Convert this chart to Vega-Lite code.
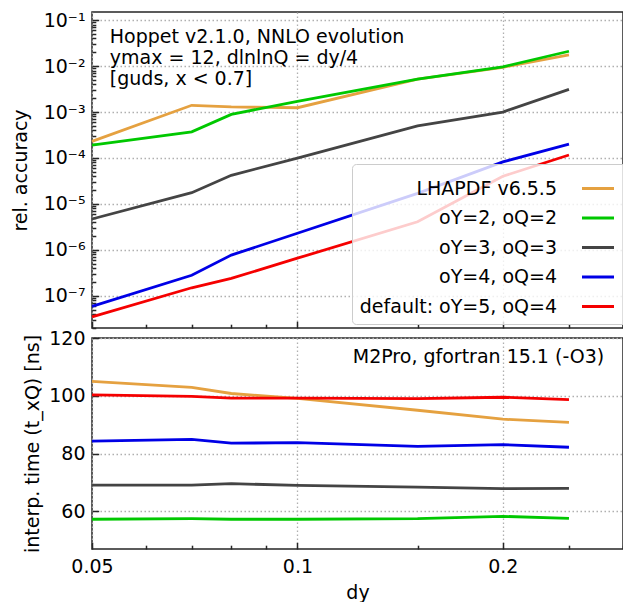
{
  "$schema": "https://vega.github.io/schema/vega-lite/v6.json",
  "background": "white",
  "padding": {"left": 10, "top": 10, "right": 0, "bottom": 0},
  "config": {
    "font": "DejaVu Sans",
    "view": {"stroke": "#262626", "strokeWidth": 1.5},
    "axis": {
      "labelFont": "DejaVu Sans", "labelFontSize": 19, "labelColor": "black",
      "titleFont": "DejaVu Sans", "titleFontSize": 19, "titleFontWeight": "normal", "titleColor": "black",
      "domain": false, "tickColor": "#262626", "tickWidth": 1.5,
      "gridColor": "#b0b0b0", "gridDash": [1.5, 2.5], "gridWidth": 1.3,
      "labelFlush": false, "labelOverlap": false
    },
    "concat": {"spacing": -2}
  },
  "datasets": {
    "d": [
      {"series": "LHAPDF v6.5.5", "dy": 0.05, "acc": 2.3e-4, "time": 105.0},
      {"series": "LHAPDF v6.5.5", "dy": 0.07, "acc": 1.4e-3, "time": 102.9},
      {"series": "LHAPDF v6.5.5", "dy": 0.08, "acc": 1.29e-3, "time": 100.8},
      {"series": "LHAPDF v6.5.5", "dy": 0.1, "acc": 1.24e-3, "time": 99.1},
      {"series": "LHAPDF v6.5.5", "dy": 0.15, "acc": 5.2e-3, "time": 95.0},
      {"series": "LHAPDF v6.5.5", "dy": 0.2, "acc": 9.4e-3, "time": 91.9},
      {"series": "LHAPDF v6.5.5", "dy": 0.25, "acc": 1.75e-2, "time": 90.8},
      {"series": "oY=2, oQ=2", "dy": 0.05, "acc": 1.9e-4, "time": 57.3},
      {"series": "oY=2, oQ=2", "dy": 0.07, "acc": 3.7e-4, "time": 57.5},
      {"series": "oY=2, oQ=2", "dy": 0.08, "acc": 8.9e-4, "time": 57.3},
      {"series": "oY=2, oQ=2", "dy": 0.1, "acc": 1.7e-3, "time": 57.3},
      {"series": "oY=2, oQ=2", "dy": 0.15, "acc": 5.2e-3, "time": 57.5},
      {"series": "oY=2, oQ=2", "dy": 0.2, "acc": 9.6e-3, "time": 58.3},
      {"series": "oY=2, oQ=2", "dy": 0.25, "acc": 2.1e-2, "time": 57.6},
      {"series": "oY=3, oQ=3", "dy": 0.05, "acc": 4.7e-6, "time": 69.1},
      {"series": "oY=3, oQ=3", "dy": 0.07, "acc": 1.76e-5, "time": 69.1},
      {"series": "oY=3, oQ=3", "dy": 0.08, "acc": 4.2e-5, "time": 69.6},
      {"series": "oY=3, oQ=3", "dy": 0.1, "acc": 9.9e-5, "time": 69.0},
      {"series": "oY=3, oQ=3", "dy": 0.15, "acc": 5.0e-4, "time": 68.4},
      {"series": "oY=3, oQ=3", "dy": 0.2, "acc": 1.0e-3, "time": 67.9},
      {"series": "oY=3, oQ=3", "dy": 0.25, "acc": 3.1e-3, "time": 68.0},
      {"series": "oY=4, oQ=4", "dy": 0.05, "acc": 5.9e-8, "time": 84.3},
      {"series": "oY=4, oQ=4", "dy": 0.07, "acc": 2.8e-7, "time": 84.9},
      {"series": "oY=4, oQ=4", "dy": 0.08, "acc": 7.7e-7, "time": 83.6},
      {"series": "oY=4, oQ=4", "dy": 0.1, "acc": 2.3e-6, "time": 83.8},
      {"series": "oY=4, oQ=4", "dy": 0.15, "acc": 1.7e-5, "time": 82.5},
      {"series": "oY=4, oQ=4", "dy": 0.2, "acc": 8.2e-5, "time": 83.1},
      {"series": "oY=4, oQ=4", "dy": 0.25, "acc": 2.0e-4, "time": 82.2},
      {"series": "default: oY=5, oQ=4", "dy": 0.05, "acc": 3.5e-8, "time": 100.3},
      {"series": "default: oY=5, oQ=4", "dy": 0.07, "acc": 1.5e-7, "time": 99.8},
      {"series": "default: oY=5, oQ=4", "dy": 0.08, "acc": 2.4e-7, "time": 99.2},
      {"series": "default: oY=5, oQ=4", "dy": 0.1, "acc": 6.6e-7, "time": 99.2},
      {"series": "default: oY=5, oQ=4", "dy": 0.15, "acc": 4.1e-6, "time": 99.0},
      {"series": "default: oY=5, oQ=4", "dy": 0.2, "acc": 4.0e-5, "time": 99.5},
      {"series": "default: oY=5, oQ=4", "dy": 0.25, "acc": 1.16e-4, "time": 98.7}
    ]
  },
  "vconcat": [
    {
      "width": 531,
      "height": 316,
      "resolve": {"axis": {"x": "independent", "y": "independent"}},
      "layer": [
        {
          "data": {"name": "d"},
          "mark": {"type": "line", "strokeWidth": 2.8},
          "encoding": {
            "x": {
              "field": "dy", "type": "quantitative",
              "scale": {"type": "log", "domain": [0.05, 0.3], "nice": false},
              "axis": {"orient": "bottom", "title": null, "labels": false, "values": [0.05, 0.1, 0.2], "tickSize": -6.7, "grid": true}
            },
            "y": {
              "field": "acc", "type": "quantitative",
              "scale": {"type": "log", "domain": [2e-8, 0.15], "nice": false},
              "axis": {
                "orient": "left", "title": "rel. accuracy", "titlePadding": 13, "grid": true,
                "values": [1e-7, 1e-6, 1e-5, 1e-4, 1e-3, 1e-2, 1e-1],
                "labelExpr": "'10⁻' + ['⁰','¹','²','³','⁴','⁵','⁶','⁷','⁸','⁹'][-round(log(datum.value)/LN10)]",
                "labelPadding": 13.7, "tickSize": -6.7
              }
            },
            "color": {
              "field": "series", "type": "nominal",
              "scale": {
                "domain": ["LHAPDF v6.5.5", "oY=2, oQ=2", "oY=3, oQ=3", "oY=4, oQ=4", "default: oY=5, oQ=4"],
                "range": ["#E5A140", "#00C800", "#444444", "#0000E6", "#F50000"]
              },
              "legend": {
                "title": null, "orient": "none", "legendX": 260, "legendY": 152,
                "symbolType": "stroke", "symbolSize": 1024, "symbolStrokeWidth": 3,
                "labelFont": "DejaVu Sans", "labelFontSize": 19, "labelColor": "black", "labelAlign": "right", "labelLimit": 300,
                "symbolOffset": 221.5, "labelOffset": -58.5,
                "padding": 7, "rowPadding": 1.5,
                "fillColor": "rgba(255,255,255,0.8)", "strokeColor": "#cccccc", "cornerRadius": 4
              }
            }
          }
        },
        {
          "data": {"values": [{}]},
          "mark": {"type": "text", "text": ["Hoppet v2.1.0, NNLO evolution", "ymax = 12, dlnlnQ = dy/4", "[guds, x < 0.7]"], "align": "left", "baseline": "alphabetic", "fontSize": 19, "lineHeight": 21, "color": "black"},
          "encoding": {
            "x": {"datum": 0.0531, "type": "quantitative",
              "axis": {"orient": "bottom", "title": null, "labels": false, "grid": false, "tickSize": -3.8,
                "values": [0.06, 0.07, 0.08, 0.09, 0.15, 0.25, 0.3]}},
            "y": {"datum": 0.0321, "type": "quantitative",
              "axis": {"orient": "left", "title": null, "labels": false, "grid": false, "tickSize": -3.8,
                "values": [2e-8, 3e-8, 4e-8, 5e-8, 6e-8, 7e-8, 8e-8, 9e-8,
                           2e-7, 3e-7, 4e-7, 5e-7, 6e-7, 7e-7, 8e-7, 9e-7,
                           2e-6, 3e-6, 4e-6, 5e-6, 6e-6, 7e-6, 8e-6, 9e-6,
                           2e-5, 3e-5, 4e-5, 5e-5, 6e-5, 7e-5, 8e-5, 9e-5,
                           2e-4, 3e-4, 4e-4, 5e-4, 6e-4, 7e-4, 8e-4, 9e-4,
                           2e-3, 3e-3, 4e-3, 5e-3, 6e-3, 7e-3, 8e-3, 9e-3,
                           2e-2, 3e-2, 4e-2, 5e-2, 6e-2, 7e-2, 8e-2, 9e-2]}}
          }
        }
      ]
    },
    {
      "width": 531,
      "height": 211,
      "resolve": {"axis": {"x": "independent"}},
      "layer": [
        {
          "data": {"name": "d"},
          "mark": {"type": "line", "strokeWidth": 2.8},
          "encoding": {
            "x": {
              "field": "dy", "type": "quantitative",
              "scale": {"type": "log", "domain": [0.05, 0.3], "nice": false},
              "axis": {
                "orient": "bottom", "title": "dy", "titlePadding": 7, "grid": true,
                "values": [0.05, 0.1, 0.2],
                "labelExpr": "'' + datum.value",
                "labelPadding": 14.7, "tickSize": -6.7
              }
            },
            "y": {
              "field": "time", "type": "quantitative",
              "scale": {"domain": [47, 120], "nice": false, "zero": false},
              "axis": {
                "title": "interp. time (t_xQ) [ns]", "titlePadding": 6, "grid": true,
                "values": [60, 80, 100, 120],
                "labelPadding": 13.7, "tickSize": -6.7
              }
            },
            "color": {
              "field": "series", "type": "nominal",
              "scale": {
                "domain": ["LHAPDF v6.5.5", "oY=2, oQ=2", "oY=3, oQ=3", "oY=4, oQ=4", "default: oY=5, oQ=4"],
                "range": ["#E5A140", "#00C800", "#444444", "#0000E6", "#F50000"]
              },
              "legend": null
            }
          }
        },
        {
          "data": {"values": [{}]},
          "mark": {"type": "text", "text": "M2Pro, gfortran 15.1 (-O3)", "align": "right", "baseline": "alphabetic", "fontSize": 19, "color": "black"},
          "encoding": {
            "x": {"datum": 0.2816, "type": "quantitative",
              "axis": {"orient": "bottom", "title": null, "labels": false, "grid": false, "tickSize": -3.8,
                "values": [0.06, 0.07, 0.08, 0.09, 0.15, 0.25, 0.3]}},
            "y": {"datum": 111.3, "type": "quantitative"}
          }
        }
      ]
    }
  ]
}
